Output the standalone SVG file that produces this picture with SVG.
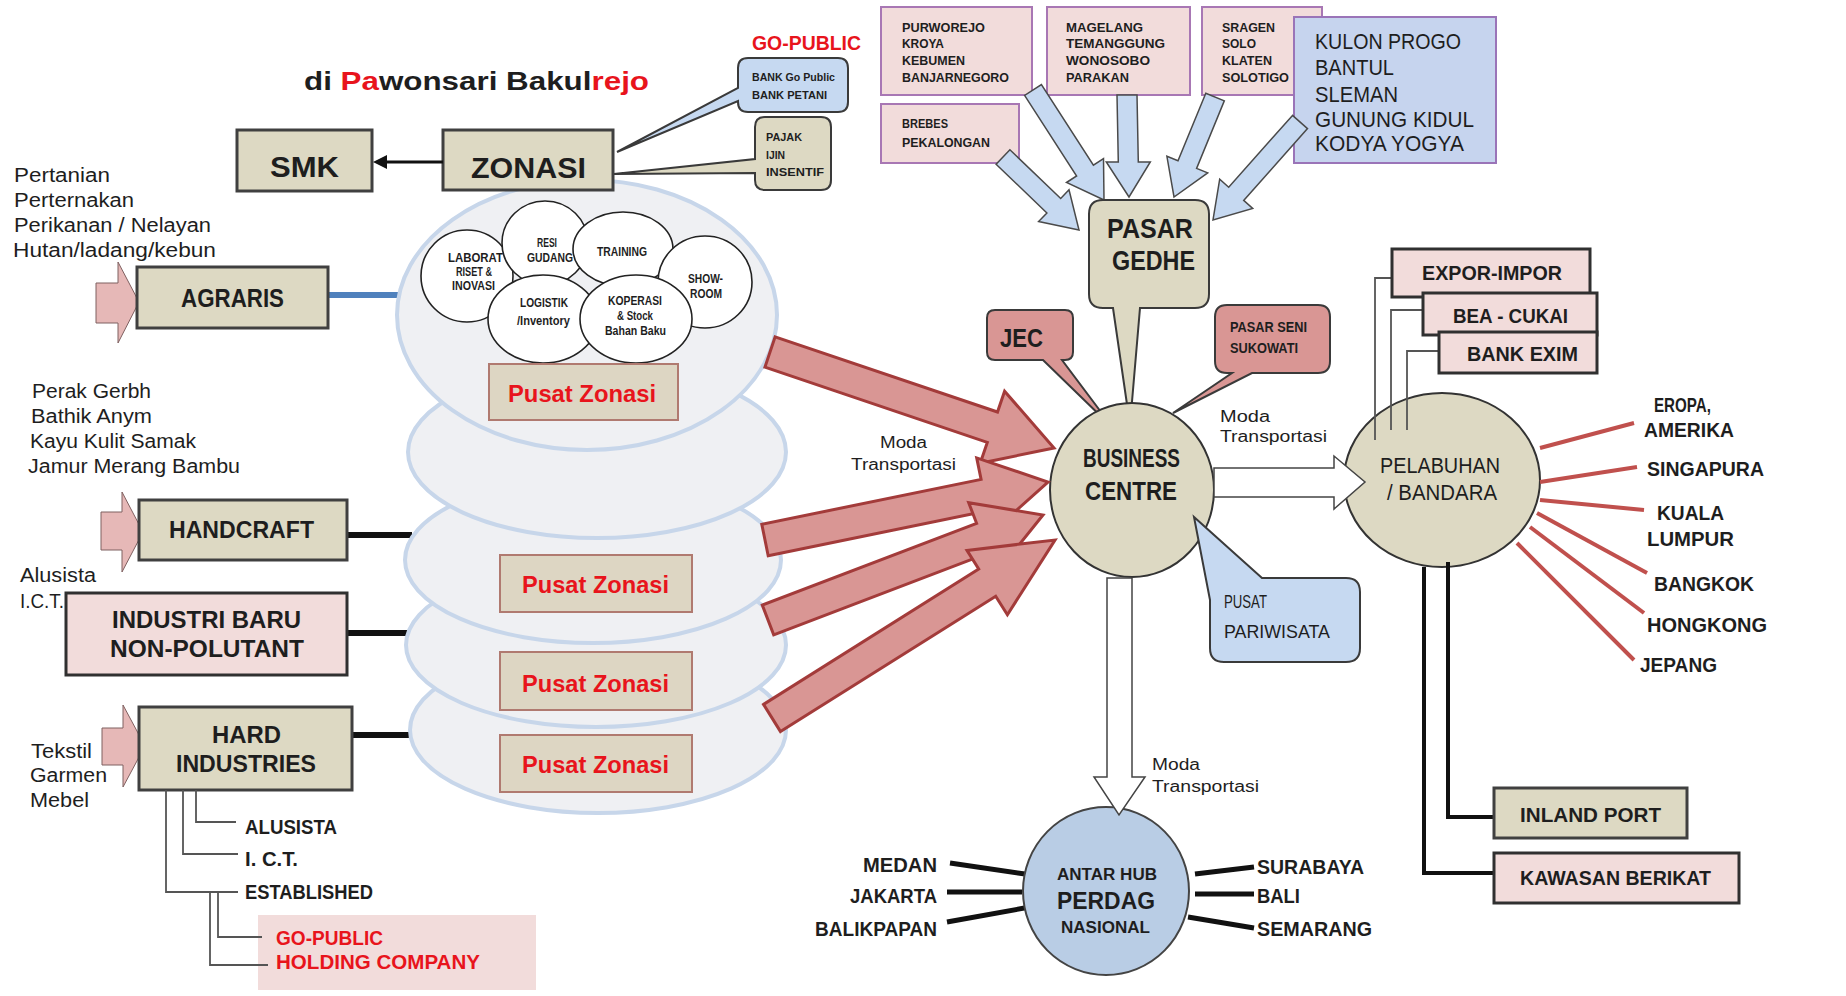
<svg xmlns="http://www.w3.org/2000/svg" width="1846" height="996" viewBox="0 0 1846 996">
<style>
text{font-family:"Liberation Sans",Arial,sans-serif;fill:#1e1e1e}
.b{font-weight:bold}
.r{fill:#e8141c}
.beige{fill:#ddd9c3;stroke:#404040;stroke-width:3}
.pink{fill:#f2dcdb;stroke:#303030;stroke-width:3}
.tbox{fill:#f2dcdb;stroke:#a877b4;stroke-width:2}
.ell{fill:#eff0f3;stroke:#c7d6ea;stroke-width:4}
.circ{fill:#fff;stroke:#222;stroke-width:1.6}
.pz{fill:#ddd6c3;stroke:#b07a70;stroke-width:2}
.redarr{fill:#d99694;stroke:#a33b3a;stroke-width:3;stroke-linejoin:miter}
.bluearr{fill:#c6d9f1;stroke:#4a4a4a;stroke-width:1.5}
.pinkarr{fill:#e6b8b7;stroke:#7f6060;stroke-width:1}
.hollow{fill:#fff;stroke:#444;stroke-width:1.5}
.call{stroke:#3a3a3a;stroke-width:2}
.thin{fill:none;stroke:#555;stroke-width:1.8}
.thick{fill:none;stroke:#111;stroke-width:6}
.ray{fill:none;stroke:#c0504d;stroke-width:4}
.hub{fill:none;stroke:#111;stroke-width:5}
</style>

<g id="connectors">
  <line x1="328" y1="295" x2="402" y2="295" stroke="#4f81bd" stroke-width="6"/>
  <line class="thick" x1="347" y1="535" x2="412" y2="535"/>
  <line class="thick" x1="347" y1="633" x2="410" y2="633"/>
  <line class="thick" x1="352" y1="735" x2="415" y2="735"/>
</g>

<g id="zone-stack">
  <ellipse class="ell" cx="598" cy="730" rx="188" ry="83"/>
  <ellipse class="ell" cx="596" cy="645" rx="190" ry="82"/>
  <ellipse class="ell" cx="593" cy="560" rx="188" ry="83"/>
  <ellipse class="ell" cx="597" cy="452" rx="189" ry="86"/>
  <ellipse class="ell" cx="587" cy="315" rx="190" ry="135"/>
</g>

<g id="facilities">
  <ellipse class="circ" cx="467" cy="276" rx="46" ry="46"/>
  <text class="b" x="448" y="262" font-size="12" textLength="55" lengthAdjust="spacingAndGlyphs">LABORAT</text>
  <text class="b" x="456" y="276" font-size="12" textLength="36" lengthAdjust="spacingAndGlyphs">RISET &amp;</text>
  <text class="b" x="452" y="290" font-size="12" textLength="43" lengthAdjust="spacingAndGlyphs">INOVASI</text>
  <ellipse class="circ" cx="545" cy="243" rx="43" ry="42"/>
  <text class="b" x="537" y="247" font-size="12" textLength="20" lengthAdjust="spacingAndGlyphs">RESI</text>
  <text class="b" x="527" y="262" font-size="12" textLength="46" lengthAdjust="spacingAndGlyphs">GUDANG</text>
  <ellipse class="circ" cx="623" cy="249" rx="50" ry="37"/>
  <text class="b" x="597" y="256" font-size="12" textLength="50" lengthAdjust="spacingAndGlyphs">TRAINING</text>
  <ellipse class="circ" cx="705" cy="282" rx="47" ry="46"/>
  <text class="b" x="688" y="283" font-size="12" textLength="35" lengthAdjust="spacingAndGlyphs">SHOW-</text>
  <text class="b" x="690" y="298" font-size="12" textLength="32" lengthAdjust="spacingAndGlyphs">ROOM</text>
  <ellipse class="circ" cx="543" cy="319" rx="55" ry="44"/>
  <text class="b" x="520" y="307" font-size="12" textLength="48" lengthAdjust="spacingAndGlyphs">LOGISTIK</text>
  <text class="b" x="517" y="325" font-size="12" textLength="53" lengthAdjust="spacingAndGlyphs">/Inventory</text>
  <ellipse class="circ" cx="636" cy="319" rx="56" ry="44"/>
  <text class="b" x="608" y="305" font-size="12" textLength="54" lengthAdjust="spacingAndGlyphs">KOPERASI</text>
  <text class="b" x="617" y="320" font-size="12" textLength="36" lengthAdjust="spacingAndGlyphs">&amp; Stock</text>
  <text class="b" x="605" y="335" font-size="12" textLength="61" lengthAdjust="spacingAndGlyphs">Bahan Baku</text>
</g>

<g id="pusat-zonasi">
  <rect class="pz" x="489" y="364" width="189" height="56" fill="#e3d2c6"/>
  <text class="b r" x="508" y="402" font-size="24" textLength="148" lengthAdjust="spacingAndGlyphs">Pusat Zonasi</text>
  <rect class="pz" x="500" y="555" width="192" height="57"/>
  <text class="b r" x="522" y="593" font-size="24" textLength="147" lengthAdjust="spacingAndGlyphs">Pusat Zonasi</text>
  <rect class="pz" x="500" y="652" width="192" height="58"/>
  <text class="b r" x="522" y="692" font-size="24" textLength="147" lengthAdjust="spacingAndGlyphs">Pusat Zonasi</text>
  <rect class="pz" x="500" y="735" width="192" height="57"/>
  <text class="b r" x="522" y="773" font-size="24" textLength="147" lengthAdjust="spacingAndGlyphs">Pusat Zonasi</text>
</g>

<g id="title">
  <text class="b" x="304" y="90" font-size="26" textLength="345" lengthAdjust="spacingAndGlyphs">di <tspan class="r">Pa</tspan>wonsari Bakul<tspan class="r">rejo</tspan></text>
</g>

<g id="go-public-top">
  <text class="b r" x="752" y="50" font-size="21" textLength="109" lengthAdjust="spacingAndGlyphs">GO-PUBLIC</text>
</g>

<g id="bank-callout">
  <path class="call" fill="#c6d9f1" d="M748 58 H838 Q848 58 848 68 V102 Q848 112 838 112 H748 Q738 112 738 102 V101 L617 152 L738 88 V68 Q738 58 748 58 Z"/>
  <text class="b" x="752" y="81" font-size="11" textLength="83" lengthAdjust="spacingAndGlyphs">BANK Go Public</text>
  <text class="b" x="752" y="99" font-size="11" textLength="75" lengthAdjust="spacingAndGlyphs">BANK  PETANI</text>
</g>

<g id="pajak-callout">
  <path class="call" fill="#ddd9c3" d="M765 117 H821 Q831 117 831 127 V180 Q831 190 821 190 H765 Q755 190 755 180 V173 L614 174 L755 159 V127 Q755 117 765 117 Z"/>
  <text class="b" x="766" y="141" font-size="11" textLength="36" lengthAdjust="spacingAndGlyphs">PAJAK</text>
  <text class="b" x="766" y="159" font-size="11" textLength="19" lengthAdjust="spacingAndGlyphs">IJIN</text>
  <text class="b" x="766" y="176" font-size="11" textLength="58" lengthAdjust="spacingAndGlyphs">INSENTIF</text>
</g>

<g id="zonasi">
  <rect class="beige" x="443" y="130" width="170" height="60"/>
  <text class="b" x="471" y="178" font-size="29" textLength="115" lengthAdjust="spacingAndGlyphs">ZONASI</text>
</g>

<g id="smk">
  <rect class="beige" x="237" y="130" width="135" height="61"/>
  <text class="b" x="270" y="177" font-size="29" textLength="69" lengthAdjust="spacingAndGlyphs">SMK</text>
</g>

<g id="zonasi-smk-arrow">
  <line x1="443" y1="162" x2="384" y2="162" stroke="#111" stroke-width="3"/>
  <polygon points="373,162 387,155 387,169" fill="#111"/>
</g>

<g id="agraris">
  <text x="14" y="182" font-size="20" textLength="96" lengthAdjust="spacingAndGlyphs">Pertanian</text>
  <text x="14" y="207" font-size="20" textLength="120" lengthAdjust="spacingAndGlyphs">Perternakan</text>
  <text x="14" y="232" font-size="20" textLength="197" lengthAdjust="spacingAndGlyphs">Perikanan / Nelayan</text>
  <text x="13" y="257" font-size="20" textLength="203" lengthAdjust="spacingAndGlyphs">Hutan/ladang/kebun</text>
  <path class="pinkarr" d="M96 283 H118 V262 L139 302 L118 343 V323 H96 Z"/>
  <rect class="beige" x="137" y="267" width="191" height="61"/>
  <text class="b" x="181" y="307" font-size="25" textLength="103" lengthAdjust="spacingAndGlyphs">AGRARIS</text>
</g>

<g id="handcraft">
  <text x="32" y="398" font-size="20" textLength="119" lengthAdjust="spacingAndGlyphs">Perak Gerbh</text>
  <text x="31" y="423" font-size="20" textLength="121" lengthAdjust="spacingAndGlyphs">Bathik Anym</text>
  <text x="30" y="448" font-size="20" textLength="166" lengthAdjust="spacingAndGlyphs">Kayu Kulit Samak</text>
  <text x="28" y="473" font-size="20" textLength="212" lengthAdjust="spacingAndGlyphs">Jamur Merang Bambu</text>
  <path class="pinkarr" d="M101 512 H122 V492 L143 532 L122 572 V550 H101 Z"/>
  <rect class="beige" x="139" y="500" width="208" height="60"/>
  <text class="b" x="169" y="538" font-size="23" textLength="145" lengthAdjust="spacingAndGlyphs">HANDCRAFT</text>
</g>

<g id="industri-baru">
  <text x="20" y="582" font-size="20" textLength="76" lengthAdjust="spacingAndGlyphs">Alusista</text>
  <text x="20" y="608" font-size="20" textLength="44" lengthAdjust="spacingAndGlyphs">I.C.T.</text>
  <rect class="pink" x="66" y="593" width="281" height="82"/>
  <text class="b" x="112" y="628" font-size="23" textLength="189" lengthAdjust="spacingAndGlyphs">INDUSTRI BARU</text>
  <text class="b" x="110" y="657" font-size="23" textLength="194" lengthAdjust="spacingAndGlyphs">NON-POLUTANT</text>
</g>

<g id="hard-industries">
  <text x="31" y="758" font-size="20" textLength="61" lengthAdjust="spacingAndGlyphs">Tekstil</text>
  <text x="30" y="782" font-size="20" textLength="77" lengthAdjust="spacingAndGlyphs">Garmen</text>
  <text x="30" y="807" font-size="20" textLength="59" lengthAdjust="spacingAndGlyphs">Mebel</text>
  <path class="pinkarr" d="M102 728 H123 V705 L145 746 L123 787 V765 H102 Z"/>
  <rect class="beige" x="139" y="707" width="213" height="83"/>
  <text class="b" x="212" y="743" font-size="23" textLength="69" lengthAdjust="spacingAndGlyphs">HARD</text>
  <text class="b" x="176" y="772" font-size="23" textLength="140" lengthAdjust="spacingAndGlyphs">INDUSTRIES</text>
</g>

<g id="hard-tree">
  <rect x="258" y="915" width="278" height="75" fill="#f2dcdb"/>
  <path class="thin" d="M196 790 V822 H236"/>
  <path class="thin" d="M183 790 V854 H238"/>
  <path class="thin" d="M166 790 V892 H238"/>
  <path class="thin" d="M218 892 V937 H262"/>
  <path class="thin" d="M210 892 V965 H268"/>
  <text class="b" x="245" y="834" font-size="21" textLength="92" lengthAdjust="spacingAndGlyphs">ALUSISTA</text>
  <text class="b" x="245" y="866" font-size="21" textLength="53" lengthAdjust="spacingAndGlyphs">I. C.T.</text>
  <text class="b" x="245" y="899" font-size="21" textLength="128" lengthAdjust="spacingAndGlyphs">ESTABLISHED</text>
  <text class="b r" x="276" y="945" font-size="21" textLength="107" lengthAdjust="spacingAndGlyphs">GO-PUBLIC</text>
  <text class="b r" x="276" y="969" font-size="21" textLength="204" lengthAdjust="spacingAndGlyphs">HOLDING  COMPANY</text>
</g>

<g id="region-boxes">
  <rect class="tbox" x="881" y="7" width="151" height="88"/>
  <text class="b" x="902" y="32" font-size="13" textLength="83" lengthAdjust="spacingAndGlyphs">PURWOREJO</text>
  <text class="b" x="902" y="48" font-size="13" textLength="42" lengthAdjust="spacingAndGlyphs">KROYA</text>
  <text class="b" x="902" y="65" font-size="13" textLength="63" lengthAdjust="spacingAndGlyphs">KEBUMEN</text>
  <text class="b" x="902" y="82" font-size="13" textLength="107" lengthAdjust="spacingAndGlyphs">BANJARNEGORO</text>
  <rect class="tbox" x="881" y="104" width="138" height="59"/>
  <text class="b" x="902" y="128" font-size="13" textLength="46" lengthAdjust="spacingAndGlyphs">BREBES</text>
  <text class="b" x="902" y="147" font-size="13" textLength="88" lengthAdjust="spacingAndGlyphs">PEKALONGAN</text>
  <rect class="tbox" x="1047" y="7" width="143" height="88"/>
  <text class="b" x="1066" y="32" font-size="13" textLength="77" lengthAdjust="spacingAndGlyphs">MAGELANG</text>
  <text class="b" x="1066" y="48" font-size="13" textLength="99" lengthAdjust="spacingAndGlyphs">TEMANGGUNG</text>
  <text class="b" x="1066" y="65" font-size="13" textLength="84" lengthAdjust="spacingAndGlyphs">WONOSOBO</text>
  <text class="b" x="1066" y="82" font-size="13" textLength="63" lengthAdjust="spacingAndGlyphs">PARAKAN</text>
  <rect class="tbox" x="1202" y="7" width="120" height="88"/>
  <text class="b" x="1222" y="32" font-size="13" textLength="53" lengthAdjust="spacingAndGlyphs">SRAGEN</text>
  <text class="b" x="1222" y="48" font-size="13" textLength="34" lengthAdjust="spacingAndGlyphs">SOLO</text>
  <text class="b" x="1222" y="65" font-size="13" textLength="50" lengthAdjust="spacingAndGlyphs">KLATEN</text>
  <text class="b" x="1222" y="82" font-size="13" textLength="67" lengthAdjust="spacingAndGlyphs">SOLOTIGO</text>
  <rect x="1294" y="17" width="202" height="146" fill="#c6d4ee" stroke="#9a74b8" stroke-width="2"/>
  <text x="1315" y="49" font-size="22" textLength="146" lengthAdjust="spacingAndGlyphs">KULON PROGO</text>
  <text x="1315" y="75" font-size="22" textLength="79" lengthAdjust="spacingAndGlyphs">BANTUL</text>
  <text x="1315" y="102" font-size="22" textLength="83" lengthAdjust="spacingAndGlyphs">SLEMAN</text>
  <text x="1315" y="127" font-size="22" textLength="159" lengthAdjust="spacingAndGlyphs">GUNUNG  KIDUL</text>
  <text x="1315" y="151" font-size="22" textLength="149" lengthAdjust="spacingAndGlyphs">KODYA  YOGYA</text>
</g>

<g id="region-arrows">
  <polygon class="bluearr" points="996.1,164.2 1046.9,212.9 1038.6,221.6 1079,230 1069,189.8 1060.7,198.5 1009.9,149.8"/>
  <polygon class="bluearr" points="1024.6,95.4 1076.6,176 1066.5,182.5 1104,200 1103.5,158.7 1093.4,165.2 1041.4,84.6"/>
  <polygon class="bluearr" points="1117,95 1118.3,162 1106.3,162 1129,197 1150.3,162 1138.3,162 1137,95"/>
  <polygon class="bluearr" points="1205.8,93.2 1178,160.8 1166.9,156.3 1174,197 1207.7,172.9 1196.6,168.4 1224.3,100.8"/>
  <polygon class="bluearr" points="1292.5,115.4 1228.7,187.2 1219.7,179.2 1213,220 1252.7,208.4 1243.7,200.4 1307.5,128.6"/>
</g>

<g id="pasar-gedhe">
  <path class="call" fill="#ddd9c3" d="M1103 200 H1195 Q1209 200 1209 214 V294 Q1209 308 1195 308 H1140 L1130 425 L1113 308 H1103 Q1089 308 1089 294 V214 Q1089 200 1103 200 Z"/>
  <text class="b" x="1107" y="238" font-size="28" textLength="86" lengthAdjust="spacingAndGlyphs">PASAR</text>
  <text class="b" x="1112" y="270" font-size="28" textLength="83" lengthAdjust="spacingAndGlyphs">GEDHE</text>
</g>

<g id="jec">
  <path class="call" fill="#d99694" d="M995 310 H1065 Q1073 310 1073 318 V352 Q1073 360 1065 360 H1062 L1113 428 L1043 360 H995 Q987 360 987 352 V318 Q987 310 995 310 Z"/>
  <text class="b" x="1000" y="347" font-size="26" textLength="43" lengthAdjust="spacingAndGlyphs">JEC</text>
</g>

<g id="pasar-seni">
  <path class="call" fill="#d99694" d="M1227 305 H1318 Q1330 305 1330 317 V361 Q1330 373 1318 373 H1252 L1173 413 L1232 373 H1227 Q1215 373 1215 361 V317 Q1215 305 1227 305 Z"/>
  <text class="b" x="1230" y="332" font-size="14" textLength="77" lengthAdjust="spacingAndGlyphs">PASAR SENI</text>
  <text class="b" x="1230" y="353" font-size="14" textLength="68" lengthAdjust="spacingAndGlyphs">SUKOWATI</text>
</g>

<g id="business-centre">
  <ellipse cx="1132" cy="490" rx="82" ry="87" fill="#ddd9c3" stroke="#333" stroke-width="2"/>
  <text class="b" x="1083" y="467" font-size="25" textLength="97" lengthAdjust="spacingAndGlyphs">BUSINESS</text>
  <text class="b" x="1085" y="500" font-size="25" textLength="92" lengthAdjust="spacingAndGlyphs">CENTRE</text>
</g>

<g id="pusat-pariwisata">
  <path class="call" fill="#c6d9f1" d="M1210 600 L1194 517 L1262 578 H1346 Q1360 578 1360 592 V648 Q1360 662 1346 662 H1224 Q1210 662 1210 648 Z"/>
  <text x="1224" y="608" font-size="18" textLength="43" lengthAdjust="spacingAndGlyphs">PUSAT</text>
  <text x="1224" y="638" font-size="18" textLength="106" lengthAdjust="spacingAndGlyphs">PARIWISATA</text>
</g>

<g id="zone-arrows">
  <polygon class="redarr" points="764.9,367.2 987.3,442.4 980.2,463.2 1054,448 1004.6,391.2 997.5,412 775.1,336.8"/>
  <polygon class="redarr" points="768.2,555.7 987.5,510.8 991.9,532.3 1048,482 976.7,457.9 981.1,479.4 761.8,524.3"/>
  <polygon class="redarr" points="773.7,634.9 988,553.1 995.9,573.7 1043,515 968.7,502.7 976.6,523.3 762.3,605.1"/>
  <polygon class="redarr" points="780.5,731.6 995.7,596.2 1007.4,614.8 1055,540 967,550.4 978.7,569 763.5,704.4"/>
  <text x="880" y="448" font-size="16" textLength="47" lengthAdjust="spacingAndGlyphs">Moda</text>
  <text x="851" y="470" font-size="16" textLength="105" lengthAdjust="spacingAndGlyphs">Transportasi</text>
</g>

<g id="pelabuhan">
  <ellipse cx="1442" cy="480" rx="98" ry="87" fill="#ddd9c3" stroke="#333" stroke-width="2"/>
  <text x="1380" y="473" font-size="22" textLength="120" lengthAdjust="spacingAndGlyphs">PELABUHAN</text>
  <text x="1387" y="500" font-size="22" textLength="110" lengthAdjust="spacingAndGlyphs">/ BANDARA</text>
</g>

<g id="bc-to-pelabuhan">
  <path class="hollow" d="M1214 468 H1334 V456 L1365 482 L1334 509 V497 H1214 Z"/>
  <text x="1220" y="422" font-size="16" textLength="50" lengthAdjust="spacingAndGlyphs">Moda</text>
  <text x="1220" y="442" font-size="16" textLength="107" lengthAdjust="spacingAndGlyphs">Transportasi</text>
</g>

<g id="export-services">
  <path class="thin" d="M1392 278 H1375 V440"/>
  <path class="thin" d="M1423 310 H1391 V430"/>
  <path class="thin" d="M1439 351 H1407 V430"/>
  <rect class="pink" x="1392" y="249" width="198" height="48"/>
  <text class="b" x="1422" y="280" font-size="21" textLength="140" lengthAdjust="spacingAndGlyphs">EXPOR-IMPOR</text>
  <rect class="pink" x="1423" y="293" width="174" height="42"/>
  <text class="b" x="1453" y="323" font-size="21" textLength="115" lengthAdjust="spacingAndGlyphs">BEA - CUKAI</text>
  <rect class="pink" x="1439" y="332" width="158" height="41"/>
  <text class="b" x="1467" y="361" font-size="21" textLength="111" lengthAdjust="spacingAndGlyphs">BANK EXIM</text>
</g>

<g id="international">
  <line class="ray" x1="1540" y1="448" x2="1634" y2="423"/>
  <line class="ray" x1="1540" y1="482" x2="1637" y2="467"/>
  <line class="ray" x1="1540" y1="500" x2="1644" y2="510"/>
  <line class="ray" x1="1537" y1="513" x2="1647" y2="573"/>
  <line class="ray" x1="1530" y1="527" x2="1644" y2="613"/>
  <line class="ray" x1="1517" y1="543" x2="1634" y2="660"/>
  <text class="b" x="1654" y="412" font-size="21" textLength="57" lengthAdjust="spacingAndGlyphs">EROPA,</text>
  <text class="b" x="1644" y="437" font-size="21" textLength="90" lengthAdjust="spacingAndGlyphs">AMERIKA</text>
  <text class="b" x="1647" y="476" font-size="21" textLength="117" lengthAdjust="spacingAndGlyphs">SINGAPURA</text>
  <text class="b" x="1657" y="520" font-size="21" textLength="67" lengthAdjust="spacingAndGlyphs">KUALA</text>
  <text class="b" x="1647" y="546" font-size="21" textLength="87" lengthAdjust="spacingAndGlyphs">LUMPUR</text>
  <text class="b" x="1654" y="591" font-size="21" textLength="100" lengthAdjust="spacingAndGlyphs">BANGKOK</text>
  <text class="b" x="1647" y="632" font-size="21" textLength="120" lengthAdjust="spacingAndGlyphs">HONGKONG</text>
  <text class="b" x="1640" y="672" font-size="21" textLength="77" lengthAdjust="spacingAndGlyphs">JEPANG</text>
</g>

<g id="inland">
  <path d="M1448 562 V817 H1494" fill="none" stroke="#111" stroke-width="4"/>
  <path d="M1424 567 V873 H1494" fill="none" stroke="#111" stroke-width="4"/>
  <rect class="beige" x="1494" y="788" width="193" height="50" stroke="#111"/>
  <text class="b" x="1520" y="822" font-size="21" textLength="141" lengthAdjust="spacingAndGlyphs">INLAND  PORT</text>
  <rect class="pink" x="1494" y="853" width="245" height="50" stroke="#111"/>
  <text class="b" x="1520" y="885" font-size="21" textLength="191" lengthAdjust="spacingAndGlyphs">KAWASAN BERIKAT</text>
</g>

<g id="perdag">
  <line class="hub" x1="950" y1="863" x2="1025" y2="874"/>
  <line class="hub" x1="947" y1="892" x2="1022" y2="892"/>
  <line class="hub" x1="947" y1="922" x2="1030" y2="907"/>
  <line class="hub" x1="1195" y1="874" x2="1254" y2="867"/>
  <line class="hub" x1="1195" y1="894" x2="1254" y2="894"/>
  <line class="hub" x1="1188" y1="917" x2="1254" y2="928"/>
  <ellipse cx="1106" cy="891" rx="83" ry="84" fill="#b9cde5" stroke="#444" stroke-width="2"/>
  <text class="b" x="1057" y="880" font-size="16" textLength="100" lengthAdjust="spacingAndGlyphs">ANTAR HUB</text>
  <text class="b" x="1057" y="909" font-size="24" textLength="98" lengthAdjust="spacingAndGlyphs">PERDAG</text>
  <text class="b" x="1061" y="933" font-size="17" textLength="89" lengthAdjust="spacingAndGlyphs">NASIONAL</text>
  <text class="b" x="863" y="872" font-size="21" textLength="74" lengthAdjust="spacingAndGlyphs">MEDAN</text>
  <text class="b" x="850" y="903" font-size="21" textLength="87" lengthAdjust="spacingAndGlyphs">JAKARTA</text>
  <text class="b" x="815" y="936" font-size="21" textLength="122" lengthAdjust="spacingAndGlyphs">BALIKPAPAN</text>
  <text class="b" x="1257" y="874" font-size="21" textLength="107" lengthAdjust="spacingAndGlyphs">SURABAYA</text>
  <text class="b" x="1257" y="903" font-size="21" textLength="43" lengthAdjust="spacingAndGlyphs">BALI</text>
  <text class="b" x="1257" y="936" font-size="21" textLength="115" lengthAdjust="spacingAndGlyphs">SEMARANG</text>
</g>

<g id="bc-to-perdag">
  <path class="hollow" d="M1107 578 V777 H1094 L1119 815 L1145 777 H1132 V578 Z"/>
  <text x="1152" y="770" font-size="16" textLength="48" lengthAdjust="spacingAndGlyphs">Moda</text>
  <text x="1152" y="792" font-size="16" textLength="107" lengthAdjust="spacingAndGlyphs">Transportasi</text>
</g>
</svg>
